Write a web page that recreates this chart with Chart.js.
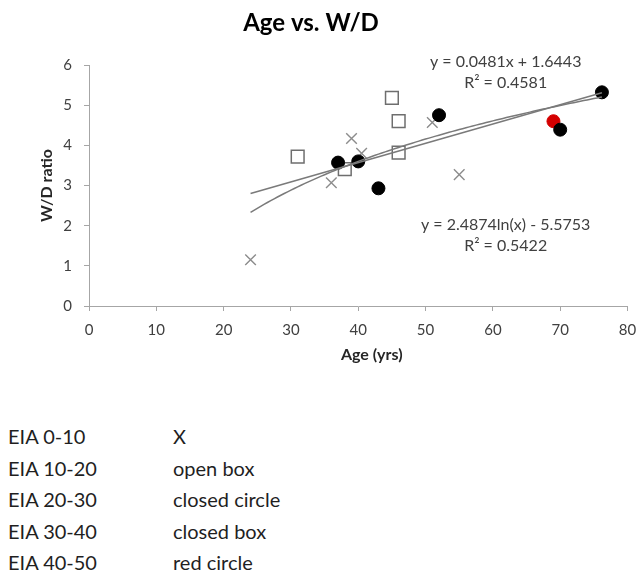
<!DOCTYPE html>
<html>
<head>
<meta charset="utf-8">
<title>Age vs. W/D</title>
<script src="https://cdn.jsdelivr.net/npm/chart.js@4/dist/chart.umd.min.js"></script>
<style>
  html, body { margin: 0; padding: 0; background: #ffffff; }
  #wrap { position: relative; width: 638px; height: 574px; overflow: hidden; }
  #chartBox { position: absolute; left: 0; top: 0; width: 638px; height: 380px; }
  #key {
    position: absolute; left: 8px; top: 421px;
    font-family: Lato, "Open Sans", sans-serif; font-size: 20px; color: #1f1f1f;
    border-collapse: collapse;
  }
  #key td { padding: 0; height: 31.6px; line-height: 31.6px; white-space: nowrap; }
  #key td.range { width: 165px; }
</style>
</head>
<body>
<div id="wrap">
  <div id="chartBox"><canvas id="chart"></canvas></div>
  <table id="key"><tbody id="keyBody"></tbody></table>
</div>
<script>
// ---- data -------------------------------------------------------------
const chartTitle = 'Age vs. W/D';
const xAxisTitle = 'Age (yrs)';
const yAxisTitle = 'W/D ratio';

// EIA 0-10 (X markers)
const eia0Ages   = [24, 36, 39, 40.5, 51, 55];
const eia0Ratios = [1.15, 3.07, 4.17, 3.8, 4.57, 3.27];
// EIA 10-20 (open boxes)
const eia10Ages   = [31, 38, 45, 46, 46];
const eia10Ratios = [3.72, 3.41, 5.18, 4.6, 3.82];
// EIA 20-30 (closed circles)
const eia20Ages   = [37, 40, 43, 52, 70, 76.2];
const eia20Ratios = [3.57, 3.6, 2.93, 4.75, 4.39, 5.32];
// EIA 40-50 (red circle)
const eia40Ages   = [69];
const eia40Ratios = [4.6];

// fitted trend lines over all points
const linSlope = 0.0481, linIntercept = 1.6443, linR2 = 0.4581;
const logCoef = 2.4874, logConst = -5.5753, logR2 = 0.5422;

const xTickValues = [0, 10, 20, 30, 40, 50, 60, 70, 80];
const yTickValues = [0, 1, 2, 3, 4, 5, 6];

const keyRanges  = ['EIA 0-10', 'EIA 10-20', 'EIA 20-30', 'EIA 30-40', 'EIA 40-50'];
const keyMarkers = ['X', 'open box', 'closed circle', 'closed box', 'red circle'];

// ---- key table under the chart -----------------------------------------
const keyBody = document.getElementById('keyBody');
keyRanges.forEach((r, i) => {
  const tr = document.createElement('tr');
  tr.innerHTML = '<td class="range">' + r + '</td><td>' + keyMarkers[i] + '</td>';
  keyBody.appendChild(tr);
});

// ---- helpers ---------------------------------------------------------------
const pairs = (xs, ys) => xs.map((x, i) => ({ x: x, y: ys[i] }));
const allAges = [].concat(eia0Ages, eia10Ages, eia20Ages, eia40Ages);
const ageMin = Math.min(...allAges);
const ageMax = Math.max(...allAges);

const linLine = [ageMin, ageMax].map(x => ({ x: x, y: linSlope * x + linIntercept }));
const logLine = [];
for (let x = ageMin; x < ageMax; x += 0.5) logLine.push({ x: x, y: logCoef * Math.log(x) + logConst });
logLine.push({ x: ageMax, y: logCoef * Math.log(ageMax) + logConst });

const linLabel = ['y = ' + linSlope.toFixed(4) + 'x + ' + linIntercept.toFixed(4), 'R\u00B2 = ' + linR2.toFixed(4)];
const logLabel = ['y = ' + logCoef.toFixed(4) + 'ln(x) - ' + Math.abs(logConst).toFixed(4), 'R\u00B2 = ' + logR2.toFixed(4)];

const FONT = 'Lato, "Open Sans", sans-serif';
const AXIS_GREY = '#a6a6a6';
const TEXT = '#404040';

// title, x-axis title and trend equations drawn on the canvas
const annotations = {
  id: 'annotations',
  afterDraw(chart) {
    const ctx = chart.ctx;
    const xs = chart.scales.x, ys = chart.scales.y;
    ctx.save();
    ctx.textAlign = 'center';
    ctx.textBaseline = 'middle';

    ctx.fillStyle = '#000000';
    ctx.font = 'bold 24px ' + FONT;
    ctx.fillText(chartTitle, 311, 23);

    ctx.fillStyle = '#262626';
    ctx.font = 'bold 16px ' + FONT;
    ctx.fillText(xAxisTitle, xs.getPixelForValue(42), xs.top + 49);

    ctx.fillStyle = TEXT;
    ctx.font = '16px ' + FONT;
    const drawLabel = (lines, ax, ay, gap) => {
      const px = xs.getPixelForValue(ax), py = ys.getPixelForValue(ay);
      lines.forEach((t, i) => ctx.fillText(t, px, py + i * gap));
    };
    drawLabel(linLabel, 61.9, 6.07, 20.5);
    drawLabel(logLabel, 61.9, 2.02, 20.5);
    ctx.restore();
  }
};

const chart = new Chart(document.getElementById('chart'), {
  type: 'scatter',
  data: {
    datasets: [
      {
        label: 'Linear trend', type: 'line', data: linLine,
        borderColor: '#7a7a7a', borderWidth: 1.5, pointRadius: 0, fill: false, order: 0
      },
      {
        label: 'Log trend', type: 'line', data: logLine,
        borderColor: '#7a7a7a', borderWidth: 1.5, pointRadius: 0, fill: false, tension: 0, order: 0
      },
      {
        label: keyRanges[2], data: pairs(eia20Ages, eia20Ratios),
        pointStyle: 'circle', pointRadius: 6.5, backgroundColor: '#000000', borderColor: '#000000',
        borderWidth: 1, order: 1
      },
      {
        label: keyRanges[4], data: pairs(eia40Ages, eia40Ratios),
        pointStyle: 'circle', pointRadius: 6.5, backgroundColor: '#d40000', borderColor: '#d40000',
        borderWidth: 1, order: 2
      },
      {
        label: keyRanges[1], data: pairs(eia10Ages, eia10Ratios),
        pointStyle: 'rect', pointRadius: 9, backgroundColor: 'rgba(255,255,255,0)', borderColor: '#6e6e6e',
        borderWidth: 1.5, order: 3
      },
      {
        label: keyRanges[0], data: pairs(eia0Ages, eia0Ratios),
        pointStyle: 'crossRot', pointRadius: 7.5, borderColor: '#8c8c8c', backgroundColor: '#8c8c8c',
        borderWidth: 1.4, order: 4
      }
    ]
  },
  options: {
    responsive: true,
    maintainAspectRatio: false,
    animation: false,
    events: [],
    layout: { padding: { top: 65, right: 0, left: 0, bottom: 0 } },
    plugins: {
      legend: { display: false },
      title: { display: false },
      tooltip: { enabled: false }
    },
    scales: {
      x: {
        type: 'linear', min: 0, max: 80,
        afterBuildTicks: s => { s.ticks = xTickValues.map(v => ({ value: v })); },
        afterFit: s => { s.height = 380 - 306; s.paddingRight = 10; },
        border: { color: AXIS_GREY, width: 1 },
        grid: { display: true, drawOnChartArea: false, drawTicks: true, tickLength: 5, color: AXIS_GREY },
        ticks: { color: TEXT, font: { family: FONT, size: 15 }, padding: 10, maxRotation: 0 },
        title: { display: false }
      },
      y: {
        type: 'linear', min: 0, max: 6,
        afterBuildTicks: s => { s.ticks = yTickValues.map(v => ({ value: v })); },
        afterFit: s => { s.width = 89; },
        border: { color: AXIS_GREY, width: 1 },
        grid: { display: true, drawOnChartArea: false, drawTicks: true, tickLength: 5, color: AXIS_GREY },
        ticks: { color: TEXT, font: { family: FONT, size: 15 }, padding: 12 },
        title: {
          display: true, text: yAxisTitle, color: '#262626',
          font: { family: FONT, size: 16, weight: 'bold' }, padding: { top: 37, bottom: 0 }
        }
      }
    }
  },
  plugins: [annotations]
});
</script>
</body>
</html>
